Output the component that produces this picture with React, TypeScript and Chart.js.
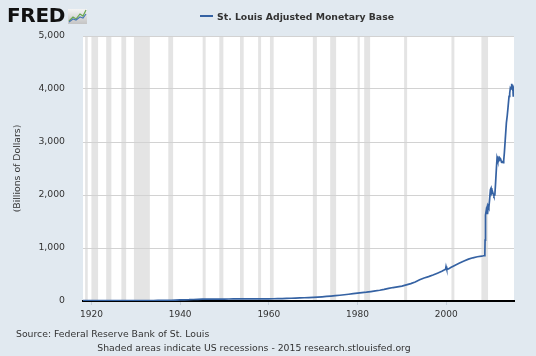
import React, { useEffect, useRef } from "react";
import { Chart, registerables } from "chart.js";

Chart.register(...registerables);

// Decimal years of observations
const obsYears = [
  1918.1, 1919, 1920, 1921, 1922, 1923, 1924, 1925, 1926, 1927, 1928, 1929,
  1930, 1931, 1932, 1933, 1934, 1935, 1936, 1937, 1938, 1939, 1940, 1941,
  1942, 1943, 1944, 1945, 1946, 1947, 1948, 1949, 1950, 1951, 1952, 1953,
  1954, 1955, 1956, 1957, 1958, 1959, 1960, 1961, 1962, 1963, 1964, 1965,
  1966, 1967, 1968, 1969, 1970, 1971, 1972, 1973, 1974, 1975, 1976, 1977,
  1978, 1979, 1980, 1981, 1982, 1983, 1984, 1985, 1986, 1987, 1988, 1989,
  1990, 1991, 1992, 1993, 1994, 1995, 1996, 1997, 1998, 1999, 1999.85, 1999.95,
  2000.1, 2000.5, 2001, 2002, 2003, 2004, 2005, 2006, 2007, 2008, 2008.6,
  2008.7, 2008.75, 2008.8, 2008.9, 2009.0, 2009.1, 2009.2, 2009.3, 2009.45,
  2009.6, 2009.75, 2009.95, 2010.1, 2010.25, 2010.4, 2010.55, 2010.75, 2010.95,
  2011.1, 2011.3, 2011.45, 2011.55, 2011.65, 2011.8, 2011.95, 2012.05, 2012.25,
  2012.45, 2012.6, 2012.8, 2012.95, 2013.1, 2013.3, 2013.55, 2013.75, 2013.92,
  2014.15, 2014.3, 2014.45, 2014.6, 2014.75, 2014.85, 2014.92, 2015.0, 2015.1,
  2015.2, 2015.27,
];

// St. Louis Adjusted Monetary Base, billions of dollars
const baseValues = [
  5.8, 6.5, 7.2, 6.6, 6.3, 6.6, 6.8, 6.9, 7.0, 7.1, 7.1, 7.0,
  6.9, 7.1, 7.8, 8.2, 9.2, 10.8, 12.3, 13.5, 14.0, 17.0, 20.5, 23.0,
  24.5, 28.0, 32.0, 35.0, 36.5, 37.0, 37.8, 36.5, 35.5, 37.5, 38.5, 39.0,
  38.8, 39.2, 39.8, 40.2, 40.5, 41.5, 41.8, 42.5, 44.0, 46.0, 48.5, 51.5,
  54.5, 57.5, 61.5, 65.5, 69.0, 74.0, 79.5, 86.0, 93.5, 101.5, 109.0, 117.5,
  127.0, 137.5, 147.5, 158.0, 166.5, 178.0, 191.0, 203.0, 219.0, 238.0, 254.0, 267.0,
  280.0, 305.0, 328.0, 360.0, 400.0, 435.0, 460.0, 490.0, 525.0, 560.0, 600.0, 650.0,
  600.0, 605.0, 630.0, 675.0, 715.0, 755.0, 790.0, 815.0, 835.0, 845.0, 858.0,
  900.0, 1150.0, 1450.0, 1620.0, 1700.0, 1650.0, 1720.0, 1640.0, 1790.0,
  1760.0, 1900.0, 2100.0, 2130.0, 2040.0, 2070.0, 2030.0, 1980.0, 2000.0,
  2200.0, 2500.0, 2700.0, 2650.0, 2730.0, 2640.0, 2660.0, 2700.0, 2680.0,
  2620.0, 2630.0, 2610.0, 2650.0, 2800.0, 3050.0, 3360.0, 3500.0, 3650.0,
  3860.0, 3920.0, 4020.0, 4000.0, 4097.0, 4030.0, 3990.0, 4080.0, 3870.0,
  4050.0, 3865.0,
];

// NBER recessions (decimal years)
const recessionStarts = [
  1918.58, 1920.0, 1923.33, 1926.75, 1929.58, 1937.33, 1945.08, 1948.83, 1953.5,
  1957.58, 1960.25, 1969.92, 1973.83, 1980.0, 1981.5, 1990.5, 2001.17, 2007.92,
];
const recessionEnds = [
  1919.17, 1921.5, 1924.5, 1927.83, 1933.17, 1938.42, 1945.75, 1949.75, 1954.33,
  1958.25, 1961.08, 1970.83, 1975.17, 1980.5, 1982.83, 1991.17, 2001.83, 2009.42,
];

const xTickValues = [1920, 1940, 1960, 1980, 2000];
const yTickValues = [0, 1000, 2000, 3000, 4000, 5000];

const seriesLabel = "St. Louis Adjusted Monetary Base";
const yTitle = "(Billions of Dollars)";
const sourceText = "Source: Federal Reserve Bank of St. Louis";
const noteText = "Shaded areas indicate US recessions - 2015 research.stlouisfed.org";

const FONT = "'DejaVu Sans', Verdana, sans-serif";
const LINE_COLOR = "#3562a3";

const backgroundPlugin = {
  id: "plotBackground",
  beforeDraw(chart: any) {
    const { ctx, chartArea, scales } = chart;
    const { left, top, right, bottom } = chartArea;
    const xs = scales.x;
    ctx.save();
    ctx.fillStyle = "#ffffff";
    ctx.fillRect(left, top, right - left, bottom - top);
    ctx.fillStyle = "#e4e4e4";
    for (let i = 0; i < recessionStarts.length; i++) {
      const x0 = Math.max(left, xs.getPixelForValue(recessionStarts[i]));
      const x1 = Math.min(right, xs.getPixelForValue(recessionEnds[i]));
      if (x1 > x0) ctx.fillRect(x0, top, Math.max(2, x1 - x0), bottom - top);
    }
    ctx.restore();
  },
};

function ChartCanvas() {
  const ref = useRef<HTMLCanvasElement | null>(null);
  useEffect(() => {
    if (!ref.current) return;
    const chart = new Chart(ref.current, {
      type: "line",
      data: {
        datasets: [
          {
            label: seriesLabel,
            data: obsYears.map((x, i) => ({ x, y: baseValues[i] })),
            borderColor: LINE_COLOR,
            borderWidth: 1.7,
            pointRadius: 0,
            tension: 0,
            fill: false,
          },
        ],
      },
      options: {
        responsive: false,
        animation: false,
        devicePixelRatio: 1,
        layout: { padding: { top: 36, right: 22, left: 0, bottom: 0 } },
        plugins: {
          legend: { display: false },
          tooltip: { enabled: false },
          title: { display: false },
        },
        scales: {
          x: {
            type: "linear",
            min: 1918.1,
            max: 2015.27,
            afterBuildTicks: (scale: any) => {
              scale.ticks = xTickValues.map((v) => ({ value: v }));
            },
            afterFit: (scale: any) => {
              scale.height = 55;
            },
            grid: {
              drawOnChartArea: false,
              drawTicks: true,
              tickLength: 4,
              color: "#c4cfdb",
            },
            border: { display: true, color: "#000000", width: 2 },
            ticks: {
              padding: 4,
              maxRotation: 0,
              color: "#333333",
              font: { family: FONT, size: 9 },
              callback: (v: any) => String(v),
            },
          },
          y: {
            min: 0,
            max: 5000,
            afterBuildTicks: (scale: any) => {
              scale.ticks = yTickValues.map((v) => ({ value: v }));
            },
            afterFit: (scale: any) => {
              scale.width = 83;
            },
            grid: { color: "#d2d2d2", drawTicks: false, lineWidth: 1 },
            border: { display: false },
            ticks: {
              padding: 18,
              color: "#333333",
              font: { family: FONT, size: 9.3 },
              callback: (v: any) => Number(v).toLocaleString("en-US"),
            },
            title: {
              display: true,
              text: yTitle,
              color: "#333333",
              font: { family: FONT, size: 9.3 },
              padding: { top: 12, bottom: 0 },
            },
          },
        },
      },
      plugins: [backgroundPlugin],
    } as any);
    return () => chart.destroy();
  }, []);
  return (
    <canvas
      ref={ref}
      width={536}
      height={356}
      style={{ position: "absolute", left: 0, top: 0, width: 536, height: 356 }}
    />
  );
}

function Logo() {
  return (
    <div style={{ position: "absolute", left: 7, top: 4, display: "flex", alignItems: "flex-end" }}>
      <span
        style={{
          fontFamily: "'DejaVu Sans', sans-serif",
          fontWeight: 900,
          fontSize: 20,
          letterSpacing: -0.3,
          color: "#111",
          lineHeight: "22px",
        }}
      >
        FRED
      </span>
      <svg width="20" height="17" viewBox="0 0 20 17" style={{ marginLeft: 3, marginBottom: 1 }}>
        <defs>
          <linearGradient id="lg" x1="0" y1="0" x2="0" y2="1">
            <stop offset="0" stopColor="#f4f4f4" />
            <stop offset="1" stopColor="#c4c4c4" />
          </linearGradient>
        </defs>
        <rect x="0" y="1" width="19" height="15" fill="url(#lg)" />
        <polyline points="1,13 5,9 8,11 12,6 15,8 18,2" fill="none" stroke="#6aa84f" strokeWidth="1.2" />
        <polyline points="1,14 5,11 8,12 12,9 15,10 18,6" fill="none" stroke="#4a78b5" strokeWidth="1.2" />
      </svg>
    </div>
  );
}

export default function App() {
  return (
    <div
      style={{
        position: "fixed",
        left: 0,
        top: 0,
        width: 536,
        height: 356,
        background: "#e1e9f0",
        overflow: "hidden",
        fontFamily: FONT,
      }}
    >
      <ChartCanvas />
      <Logo />
      <div
        style={{
          position: "absolute",
          left: 200,
          top: 9,
          display: "flex",
          alignItems: "center",
          height: 14,
          whiteSpace: "nowrap",
        }}
      >
        <span style={{ display: "inline-block", width: 13, height: 2, background: LINE_COLOR, marginRight: 4 }} />
        <span style={{ fontWeight: "bold", fontSize: 9.3, color: "#333" }}>{seriesLabel}</span>
      </div>
      <div
        style={{
          position: "absolute",
          left: 16,
          top: 327,
          fontSize: 9.3,
          color: "#333",
          whiteSpace: "nowrap",
          lineHeight: "14px",
        }}
      >
        {sourceText}
      </div>
      <div
        style={{
          position: "absolute",
          left: 0,
          width: 508,
          top: 341,
          textAlign: "center",
          fontSize: 9.3,
          color: "#333",
          whiteSpace: "nowrap",
          lineHeight: "14px",
        }}
      >
        {noteText}
      </div>
    </div>
  );
}
